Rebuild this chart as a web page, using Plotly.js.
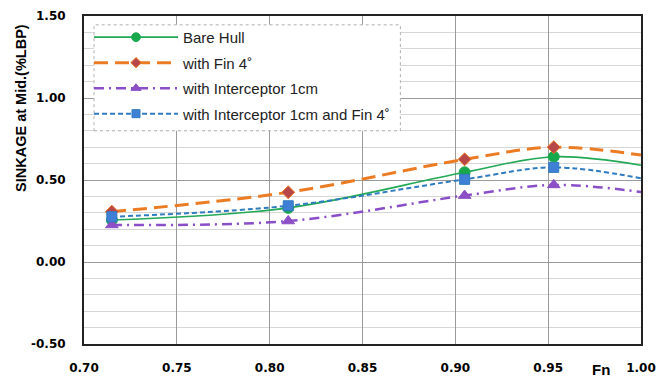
<!DOCTYPE html>
<html><head><meta charset="utf-8">
<script src="https://cdn.plot.ly/plotly-3.0.1.min.js"></script>
<style>html,body{margin:0;padding:0;background:#fff}#chart{width:672px;height:380px}</style>
</head><body><div id="chart"></div>
<script>
const fn = [0.715, 0.81, 0.905, 0.953, 1.0];
const bareHull = [0.256, 0.33, 0.547, 0.642, 0.59];
const fin4 = [0.307, 0.425, 0.626, 0.70, 0.652];
const interceptor = [0.226, 0.25, 0.405, 0.47, 0.427];
const interceptorFin = [0.276, 0.343, 0.504, 0.577, 0.51];
const names = ['Bare Hull', 'with Fin 4˚', 'with Interceptor 1cm', 'with Interceptor 1cm and Fin 4˚'];
const xTicks = [0.70, 0.75, 0.80, 0.85, 0.90, 0.95, 1.00];
const yTicks = [-0.5, 0, 0.5, 1.0, 1.5];

const msize = (s) => fn.map((v, i) => i === fn.length - 1 ? 0 : s);

const traces = [
  {x: fn, y: bareHull, name: names[0], legendgroup: 'a', mode: 'lines+markers', line: {shape: 'spline', color: '#21a955', width: 1.6},
   marker: {symbol: 'circle', size: msize(11), color: '#16a84a', opacity: 1}},
  {x: fn, y: fin4, name: names[1], legendgroup: 'b', mode: 'lines+markers', line: {shape: 'spline', color: '#ec7c24', width: 3, dash: '14px,7px'},
   marker: {symbol: 'diamond', size: msize(10), color: '#b8474a', opacity: 1}},
  {x: fn, y: interceptor, name: names[2], legendgroup: 'c', mode: 'lines+markers', line: {shape: 'spline', color: '#8a4fc8', width: 2.5, dash: '10px,5px,2px,5px'},
   marker: {symbol: 'triangle-up', size: msize(11), color: '#8e50c6', opacity: 1}},
  {x: fn, y: interceptorFin, name: names[3], legendgroup: 'd', mode: 'lines+markers', line: {shape: 'spline', color: '#2f7bc0', width: 2, dash: '5px,3px'},
   marker: {symbol: 'square', size: msize(10), color: '#3f7fd6', opacity: 1}}
];

const tickFont = {family: 'DejaVu Sans', size: 12, color: '#000', weight: 'bold'};

const layout = {
  width: 672, height: 380,
  margin: {l: 84, r: 31, t: 16, b: 36},
  paper_bgcolor: '#fff', plot_bgcolor: '#fff',
  showlegend: true,
  legend: {x: 0.009, y: 0.985, xanchor: 'left', yanchor: 'top', bgcolor: 'rgba(255,255,255,0)',
    bordercolor: 'rgba(0,0,0,0)', borderwidth: 0, traceorder: 'grouped',
    font: {family: 'Liberation Sans', size: 15, color: '#222'}, tracegroupgap: 3, itemwidth: 84},
  xaxis: {range: [0.70, 1.00], tickvals: xTicks, ticktext: xTicks.map(v => v.toFixed(2)),
    showgrid: true, gridcolor: '#9a9a9a', gridwidth: 1, zeroline: false,
    showline: true, linecolor: '#222', linewidth: 2, mirror: true, ticks: '',
    ticklabelstandoff: 12, tickfont: tickFont},
  yaxis: {range: [-0.5, 1.5], tickvals: yTicks, ticktext: yTicks.map(v => v.toFixed(2)),
    showgrid: true, gridcolor: '#9a9a9a', gridwidth: 1, zeroline: false,
    minor: {dtick: 0.1, showgrid: true, gridcolor: '#d6d6d6', gridwidth: 1, ticks: ''},
    showline: true, linecolor: '#222', linewidth: 2, mirror: true, ticks: '',
    ticklabelstandoff: 14, tickfont: tickFont},
  annotations: [
    {text: 'Fn', xref: 'paper', yref: 'paper', x: 0.929, y: -0.045, xanchor: 'center', yanchor: 'top',
     showarrow: false, font: {family: 'Liberation Sans', size: 15, color: '#000', weight: 'bold'}},
    {text: 'SINKAGE at Mid.(%LBP)', xref: 'paper', yref: 'paper', x: -0.113, y: 0.72, xanchor: 'center', yanchor: 'middle',
     textangle: -90, showarrow: false, font: {family: 'Liberation Sans', size: 14.5, color: '#000', weight: 'bold'}}
  ],
  shapes: [{type: 'rect', xref: 'paper', yref: 'paper', x0: 0.018, x1: 0.568, y0: 0.65, y1: 0.973,
    line: {color: '#b0b0b0', width: 1, dash: 'dot'}, fillcolor: '#fff', layer: 'above'}]
};

Plotly.newPlot('chart', traces, layout, {displayModeBar: false, staticPlot: true});
</script></body></html>
